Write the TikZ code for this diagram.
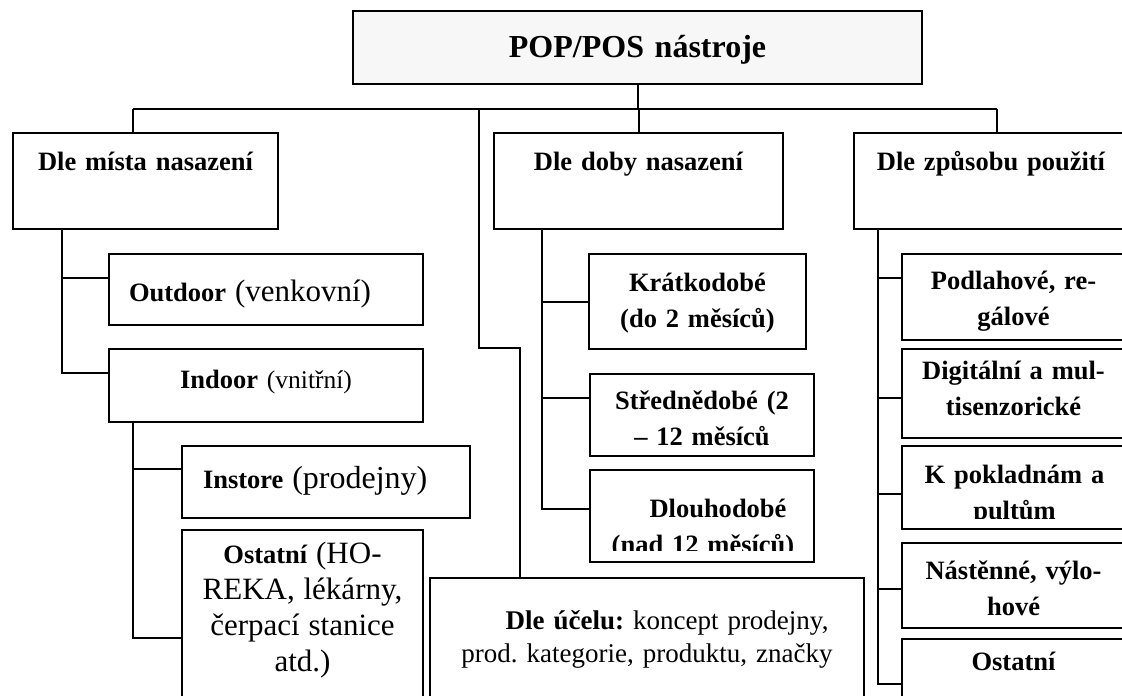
\documentclass[tikz,border=0pt]{standalone}
\usepackage{fontspec}
\setmainfont{Liberation Serif}
\frenchspacing
\definecolor{rootfill}{RGB}{247,247,247}
\tikzset{
  box/.style={draw, line width=1pt, inner sep=0pt, anchor=north west, align=center,
    font=\fontsize{13.25}{18}\selectfont\bfseries},
  link/.style={line width=1pt},
}
\newcommand{\popis}[2]{{\fontsize{#1}{18}\selectfont\mdseries #2}}
\begin{document}
\begin{tikzpicture}[x=0.5pt, y=-0.5pt]
  \useasboundingbox (0,0) rectangle (1122,695);
  \clip (0,0) rectangle (1122,695);
  % koren
  \node[box, fill=rootfill, text width=284.5pt, text height=23.25pt, text depth=13.25pt,
        font=\fontsize{16}{18}\selectfont\bfseries] (root) at (352,10) {POP/POS nástroje};
  % hlavni vetve
  \node[box, text width=132.5pt, text height=18.5pt, text depth=29.5pt] (misto) at (12,132) {Dle místa nasazení};
  \node[box, text width=144.5pt, text height=18.5pt, text depth=29.5pt] (doba) at (493,132) {Dle doby nasazení};
  \node[box, text width=137pt, text height=18.5pt, text depth=29.5pt] (zpusob) at (853,132) {Dle způsobu použití};
  \node[box, text width=217pt, text height=25.5pt, text depth=46pt,
        font=\fontsize{13.5}{16.5}\selectfont\mdseries] (ucel) at (429,577)
        {\hspace*{20pt}\textbf{Dle účelu:} koncept prodejny,\\prod. kategorie, produktu, značky};
  % misto
  \node[box, align=left, text width=157pt, text height=23.5pt, text depth=12pt] (outdoor) at (108,253)
        {\hspace*{10pt}Outdoor \popis{15.5}{(venkovní)}};
  \node[box, text width=157pt, text height=19.5pt, text depth=17pt] (indoor) at (108,348)
        {Indoor \popis{12.75}{(vnitřní)}};
  \node[box, align=left, text width=144pt, text height=21pt, text depth=15pt] (instore) at (181,445)
        {\hspace*{10.5pt}Instore \popis{16}{(prodejny)}};
  \node[box, text width=120.5pt, text height=16.5pt, text depth=91.5pt] (ostatni) at (181,529)
        {Ostatní \popis{15.5}{(HO-\\REKA, lékárny,\\čerpací stanice\\atd.)}};
  % doba
  \node[box, text width=108.5pt, text height=18.5pt, text depth=29pt] (kratko) at (588,253)
        {Krátkodobé\\(do 2 měsíců)};
  \node[box, text width=112pt, text height=17.5pt, text depth=23.5pt] (stredne) at (589,373)
        {Střednědobé (2\\– 12 měsíců};
  \node[box, text width=112pt, text height=23pt, text depth=23pt,
        path picture={
          \clip (path picture bounding box.north west) rectangle ([yshift=6pt]path picture bounding box.south east);
          \node[box, draw=none, text width=112pt, text height=23pt] (dlouhotext) at (path picture bounding box.north west)
            {\hspace*{15pt}Dlouhodobé\\(nad 12 měsíců)};
        }] (dlouho) at (589,469) {};
  % zpusob
  \node[box, text width=111.5pt, text height=17.5pt, text depth=25.5pt] (podlah) at (901,253)
        {Podlahové, re-\\gálové};
  \node[box, text width=111.5pt, text height=15pt, text depth=29.5pt] (digit) at (901,348)
        {Digitální a mul-\\tisenzorické};
  \node[box, text width=111.5pt, text height=18pt, text depth=23.5pt,
        path picture={
          \clip (path picture bounding box.north west) rectangle ([yshift=5.5pt]path picture bounding box.south east);
          \node[box, draw=none, text width=111.5pt, text height=18pt] (pokltext) at (path picture bounding box.north west)
            {K pokladnám a\\pultům};
        }] (pokl) at (901,445) {};
  \node[box, text width=111.5pt, text height=18pt, text depth=24.5pt] (nasten) at (901,542)
        {Nástěnné, výlo-\\hové};
  \node[box, text width=111.5pt, text height=15.5pt, text depth=29.5pt] (ostatni2) at (901,638)
        {Ostatní};
  % spojnice
  \coordinate (busL) at (133,109);
  \coordinate (busR) at (997,109);
  \coordinate (busU) at (479,109);
  \coordinate (knee) at (520,348);
  \draw[link] (busL) -- (busR);
  \draw[link] (root.south) -- (root.south |- busL);
  \draw[link] (busL) -- (busL |- misto.north);
  \draw[link] (doba.north |- busL) -- (doba.north);
  \draw[link] (busR) -- (busR |- zpusob.north);
  \draw[link] (busU) |- (knee) -- (knee |- ucel.north);
  \draw[link] ([xshift=25pt]misto.south west) |- ([yshift=5.75pt]outdoor.west);
  \draw[link] ([xshift=25pt]misto.south west) |- ([yshift=6.25pt]indoor.west);
  \draw[link] ([xshift=12.5pt]indoor.south west) |- ([yshift=6.5pt]instore.west);
  \draw[link] ([xshift=12.5pt]indoor.south west) |- (ostatni.west);
  \draw[link] ([xshift=24.5pt]doba.south west) |- (kratko.west);
  \draw[link] ([xshift=24.5pt]doba.south west) |- ([yshift=8.5pt]stredne.west);
  \draw[link] ([xshift=24.5pt]doba.south west) |- ([yshift=3.5pt]dlouho.west);
  \draw[link] ([xshift=12.5pt]zpusob.south west) |- ([yshift=9.5pt]podlah.west);
  \draw[link] ([xshift=12.5pt]zpusob.south west) |- ([yshift=-2.25pt]digit.west);
  \draw[link] ([xshift=12.5pt]zpusob.south west) |- ([yshift=-3.25pt]pokl.west);
  \draw[link] ([xshift=12.5pt]zpusob.south west) |- ([yshift=-1.75pt]nasten.west);
  \draw[link] ([xshift=12.5pt]zpusob.south west) |- (ostatni2.west);
\end{tikzpicture}
\end{document}
